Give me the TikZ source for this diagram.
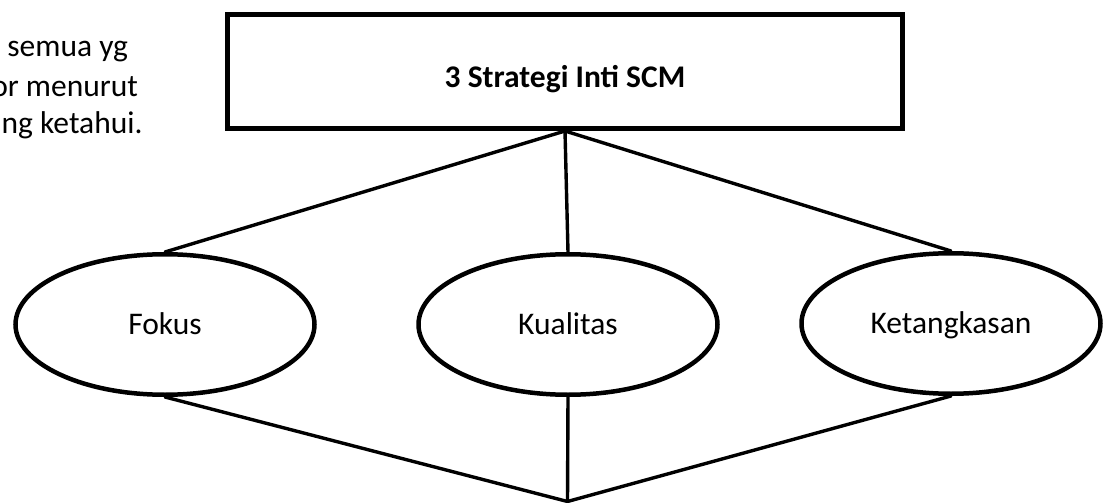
\documentclass[tikz,border=0pt]{standalone}
\usepackage{fontspec}
\setmainfont{Carlito}
\usetikzlibrary{shapes.geometric}
\tikzset{
  txt/.style={font=\fontsize{31.5}{38.5}\selectfont, inner sep=0pt, outer sep=0pt},
  titlebox/.style={draw=black, line width=5pt, minimum width=675pt, minimum height=114pt, inner sep=0pt},
  oval/.style={ellipse, draw=black, line width=4.5pt, minimum width=299pt, minimum height=140.5pt, inner sep=0pt, text height=22pt, text depth=1.5pt, font=\fontsize{31.5}{38.5}\selectfont},
  link/.style={draw=black, line width=3.4pt, line cap=round, line join=miter},
}
\begin{document}
\begin{tikzpicture}[x=1pt,y=-1pt]
\useasboundingbox (0,0) rectangle (1104,503);
\clip (0,0) rectangle (1104,503);
% partial note text at the left edge
\node[txt, anchor=base east] (n1) at (128,56.5) {semua yg};
\node[txt, anchor=base east] (n2) at (138,96) {or menurut};
\node[txt, anchor=base east] (n3) at (142.5,133.5) {ng ketahui.};
% title box
\node[titlebox] (box) at (565,71.5) {};
\node[txt, anchor=base, font=\fontsize{31.5}{38.5}\selectfont\bfseries] (title) at (565,88) {3 Strategi Inti SCM};
% ellipses
\node[oval] (fokus) at (165,324.5) {Fokus};
\node[oval] (kual) at (568,324.5) {Kualitas};
\node[oval] (ket) at (951,323.5) {Ketangkasan};
\coordinate (apex) at (567.5,501.5);
% connectors
\draw[link] (box.south) -- (fokus.north);
\draw[link] (box.south) -- (kual.north);
\draw[link] (box.south) -- (ket.north);
\draw[link] (fokus.south) -- (apex);
\draw[link] (kual.south) -- (apex);
\draw[link] (ket.south) -- (apex);
\end{tikzpicture}
\end{document}
